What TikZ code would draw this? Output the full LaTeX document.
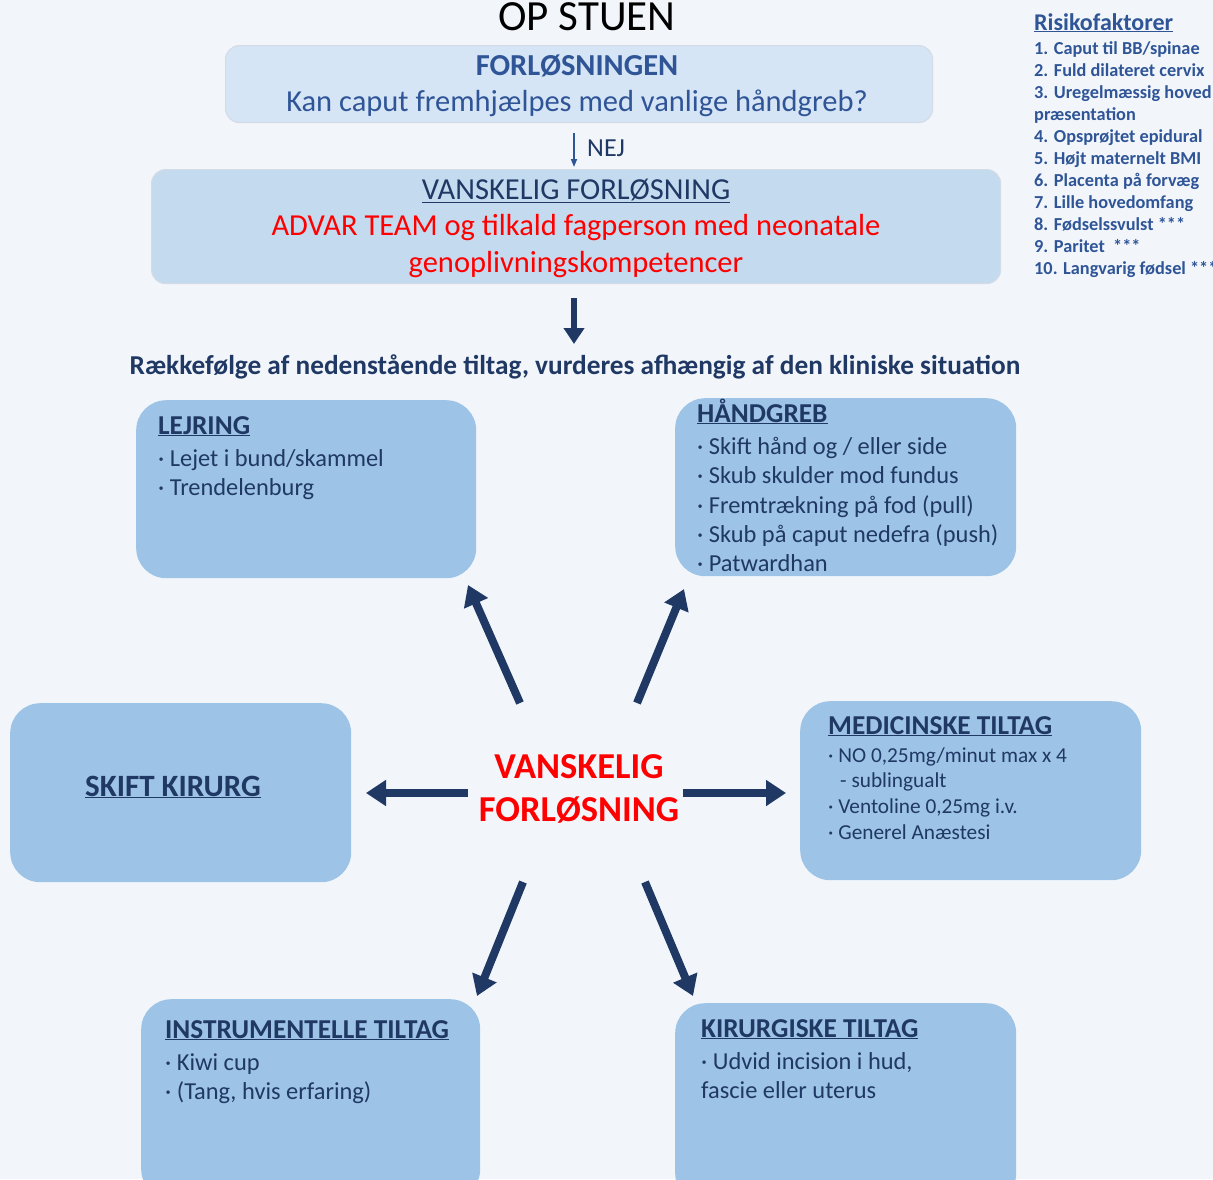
\documentclass[tikz,border=0pt]{standalone}
\usepackage{fontspec}
\setmainfont{Carlito}
\usetikzlibrary{arrows.meta}
\definecolor{bg}{HTML}{F2F6FB}
\definecolor{topfill}{HTML}{D6E5F5}
\definecolor{midfill}{HTML}{C4DAEF}
\definecolor{boxfill}{HTML}{9DC3E6}
\definecolor{edgegray}{HTML}{D3DCE6}
\definecolor{navy}{HTML}{203864}
\definecolor{midblue}{HTML}{2F5597}
\definecolor{alarm}{HTML}{FF0000}
\newcommand{\fs}[1]{\fontsize{#1}{#1}\selectfont}
\begin{document}
\begin{tikzpicture}[x=1pt,y=-1pt,
  flowbox/.style={draw=edgegray,line width=1.2pt,rounded corners=14pt,anchor=north west,inner sep=0pt},
  bigbox/.style={fill=boxfill,draw=none,rounded corners=30pt,anchor=north west,inner sep=0pt},
  txt/.style={anchor=base west,inner sep=0pt,text=navy},
  ctxt/.style={anchor=base,inner sep=0pt},
  boxtitle/.style={txt,font=\fs{27.3}\bfseries},
  item/.style={txt,font=\fs{24.4}},
  fatarrow/.style={draw=navy,line width=8pt,-{Triangle[width=25pt,length=20pt]}},
  risk/.style={anchor=base west,inner sep=0pt,text=midblue,font=\fs{18.3}\bfseries}
]
\fill[bg] (0,0) rectangle (1213,1179);
\useasboundingbox (0,0) rectangle (1213,1179);

% title
\node[ctxt,font=\fs{43}] (title) at (587,30) {OP STUEN};

% top box
\node[flowbox,fill=topfill,minimum width=707pt,minimum height=77pt] (b1) at (225,45) {};
\node[ctxt,text=midblue,font=\fs{30.5}\bfseries] (b1a) at (577,75) {FORLØSNINGEN};
\node[ctxt,text=midblue,font=\fs{30.5}] (b1b) at (577,111) {Kan caput fremhjælpes med vanlige håndgreb?};

% second box
\node[flowbox,fill=midfill,minimum width=849pt,minimum height=114pt] (b2) at (151,169) {};
\node[ctxt,text=navy,font=\fs{30.5}] (b2a) at (576,199) {\underline{VANSKELIG FORLØSNING}};
\node[ctxt,text=alarm,font=\fs{30.5}] (b2b) at (576,235) {ADVAR TEAM og tilkald fagperson med neonatale};
\node[ctxt,text=alarm,font=\fs{30.5}] (b2c) at (576,272) {genoplivningskompetencer};

\coordinate (s1) at (574,133);
\coordinate (e1) at (574,167);
\draw[midblue,line width=1.6pt,-{Triangle[width=6pt,length=8pt]}] (s1) -- (e1);
\node[txt,font=\fs{26}] (nej) at (587,156) {NEJ};

\coordinate (s2) at (574,298);
\coordinate (e2) at (574,344);
\draw[navy,line width=6pt,-{Triangle[width=20pt,length=16pt]}] (s2) -- (e2);

\node[ctxt,text=navy,font=\fs{27.3}\bfseries] (order) at (575,374) {Rækkefølge af nedenstående tiltag, vurderes afhængig af den kliniske situation};

% risk factors
\node[anchor=base west,inner sep=0pt,text=midblue,font=\fs{24}\bfseries] (rt) at (1034,30) {\underline{Risikofaktorer}};
\node[risk] (r1) at (1034,54) {1. Caput til BB/spinae};
\node[risk] (r2) at (1034,76) {2. Fuld dilateret cervix};
\node[risk] (r3) at (1034,98) {3. Uregelmæssig hoved};
\node[risk] (r3b) at (1034,120) {præsentation};
\node[risk] (r4) at (1034,142) {4. Opsprøjtet epidural};
\node[risk] (r5) at (1034,164) {5. Højt maternelt BMI};
\node[risk] (r6) at (1034,186) {6. Placenta på forvæg};
\node[risk] (r7) at (1034,208) {7. Lille hovedomfang};
\node[risk] (r8) at (1034,230) {8. Fødselssvulst ***};
\node[risk] (r9) at (1034,252) {9. Paritet~ ***};
\node[risk] (r10) at (1034,274) {10. Langvarig fødsel ***};

% LEJRING
\node[bigbox,minimum width=340pt,minimum height=178pt] (lej) at (136,400) {};
\node[boxtitle] (lejt) at (158,434) {\underline{LEJRING}};
\node[item] (lej1) at (158,466) {· Lejet i bund/skammel};
\node[item] (lej2) at (158,495) {· Trendelenburg};

% HÅNDGREB
\node[bigbox,minimum width=341pt,minimum height=178pt] (hand) at (675,398) {};
\node[boxtitle] (handt) at (697,422) {\underline{HÅNDGREB}};
\node[item] (hand1) at (697,454) {· Skift hånd og / eller side};
\node[item] (hand2) at (697,483) {· Skub skulder mod fundus};
\node[item] (hand3) at (697,513) {· Fremtrækning på fod (pull)};
\node[item] (hand4) at (697,542) {· Skub på caput nedefra (push)};
\node[item] (hand5) at (697,571) {· Patwardhan};

% SKIFT KIRURG
\node[bigbox,minimum width=341pt,minimum height=179pt] (skift) at (10,703) {};
\node[ctxt,text=navy,font=\fs{31}\bfseries] (skiftt) at (173,796) {\underline{SKIFT KIRURG}};

% MEDICINSKE
\node[bigbox,minimum width=341pt,minimum height=179pt] (med) at (800,701) {};
\node[boxtitle] (medt) at (828,734) {\underline{MEDICINSKE TILTAG}};
\node[txt,font=\fs{21.3}] (med1) at (828,762) {· NO 0,25mg/minut max x 4};
\node[txt,font=\fs{21.3}] (med2) at (828,787) {\hspace*{12pt}- sublingualt};
\node[txt,font=\fs{21.3}] (med3) at (828,813) {· Ventoline 0,25mg i.v.};
\node[txt,font=\fs{21.3}] (med4) at (828,839) {· Generel Anæstesi};

% INSTRUMENTELLE
\node[bigbox,minimum width=339pt,minimum height=200pt] (inst) at (141,999) {};
\node[boxtitle] (instt) at (165,1038) {\underline{INSTRUMENTELLE TILTAG}};
\node[item] (inst1) at (165,1070) {· Kiwi cup};
\node[item] (inst2) at (165,1099) {· (Tang, hvis erfaring)};

% KIRURGISKE
\node[bigbox,minimum width=341pt,minimum height=200pt] (kir) at (675,1003) {};
\node[boxtitle] (kirt) at (701,1037) {\underline{KIRURGISKE TILTAG}};
\node[item] (kir1) at (701,1069) {· Udvid incision i hud,};
\node[item] (kir2) at (701,1098) {fascie eller uterus};

% centre
\node[ctxt,text=alarm,font=\fs{36.5}\bfseries] (centre) at (579,778) {VANSKELIG};
\node[ctxt,text=alarm,font=\fs{36.5}\bfseries] (centre2) at (579,821) {FORLØSNING};

% arrows from centre
\coordinate (ul0) at (520,703); \coordinate (ul1) at (468,585);
\coordinate (ur0) at (637,703); \coordinate (ur1) at (684,589);
\coordinate (l0) at (468,793);  \coordinate (l1) at (366,793);
\coordinate (r0) at (683,793);  \coordinate (r1) at (786,793);
\coordinate (dl0) at (523,882); \coordinate (dl1) at (477,996);
\coordinate (dr0) at (645,882); \coordinate (dr1) at (693,996);
\draw[fatarrow] (ul0) -- (ul1);
\draw[fatarrow] (ur0) -- (ur1);
\draw[fatarrow] (l0) -- (l1);
\draw[fatarrow] (r0) -- (r1);
\draw[fatarrow] (dl0) -- (dl1);
\draw[fatarrow] (dr0) -- (dr1);
\end{tikzpicture}
\end{document}
